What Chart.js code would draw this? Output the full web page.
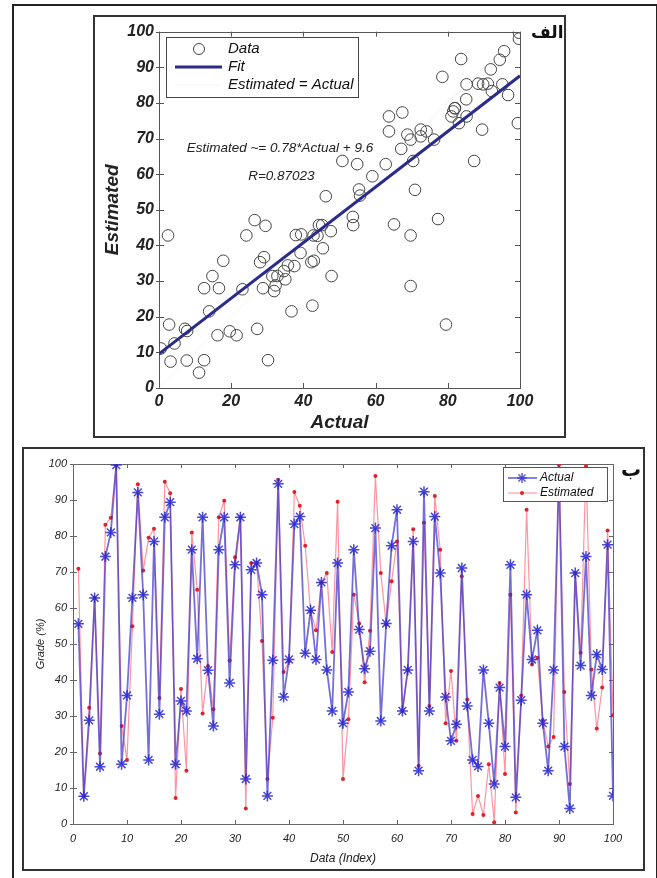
<!DOCTYPE html>
<html>
<head>
<meta charset="utf-8">
<script src="https://cdn.jsdelivr.net/npm/chart.js@4.4.1/dist/chart.umd.min.js"></script>
<style>
  body { margin: 0; background: #fff; width: 657px; height: 878px; position: relative; overflow: hidden; font-family: "Liberation Sans", Arial, sans-serif; }
  #frame { position: absolute; left: 12px; top: 4px; width: 642px; height: 890px; border: 2px solid #222; }
  #panelTop { position: absolute; left: 93px; top: 15px; width: 469px; height: 419px; border: 2px solid #333; }
  #panelBottom { position: absolute; left: 22px; top: 447px; width: 619px; height: 420px; border: 2px solid #333; }
  canvas { position: absolute; left: 0; top: 0; }
  .ar { position: absolute; font-family: "DejaVu Sans", sans-serif; font-weight: bold; color: #111; direction: rtl; line-height: 1; }
</style>
</head>
<body>
<div id="frame"></div>
<div id="panelTop"><canvas id="scatterChart" width="469" height="419"></canvas></div>
<div id="panelBottom"><canvas id="lineChart" width="619" height="420"></canvas></div>
<div class="ar" style="left:531px; top:24px; font-size:17px;">الف</div>
<div class="ar" style="left:621px; top:459px; font-size:20px;">ب</div>
<script>
// نمرات واقعی (ستاره آبی) و تخمینی (نقطه قرمز) برای هر داده
var actual = [
  55.6, 7.7, 28.8, 62.8, 15.9, 74.3, 81.0, 99.7, 16.6, 35.7,
  62.8, 92.1, 63.7, 17.8, 78.5, 30.5, 85.2, 89.4, 16.6, 34.2,
  31.4, 76.2, 45.9, 85.2, 42.7, 27.2, 76.2, 85.2, 39.2, 72.0,
  85.2, 12.5, 70.6, 72.5, 63.7, 7.8, 45.5, 94.5, 35.3, 45.7,
  83.3, 85.4, 47.4, 59.4, 45.7, 67.1, 42.8, 31.4, 72.5, 28.0,
  36.7, 76.2, 54.0, 43.1, 48.0, 82.2, 28.6, 55.7, 77.3, 87.3,
  31.4, 42.8, 78.5, 14.8, 92.3, 31.4, 85.4, 69.7, 35.3, 23.1,
  27.7, 71.1, 32.8, 17.8, 16.0, 42.8, 28.0, 11.1, 37.9, 21.5,
  72.0, 7.4, 34.4, 63.7, 45.7, 53.8, 28.0, 14.8, 42.8, 98.0,
  21.5, 4.3, 69.7, 44.0, 74.3, 35.7, 47.1, 42.9, 77.6, 7.8
];
var estimated = [
  70.9, 7.7, 32.3, 62.8, 19.6, 83.1, 85.1, 99.7, 27.2, 17.8,
  54.9, 94.4, 70.4, 79.5, 82.0, 35.0, 95.1, 91.9, 7.2, 37.5,
  14.8, 81.0, 65.1, 30.7, 43.9, 31.9, 85.2, 89.8, 45.4, 74.1,
  85.2, 4.3, 72.5, 72.5, 50.8, 12.5, 29.5, 95.6, 42.2, 45.2,
  92.2, 88.4, 77.3, 59.1, 53.8, 67.1, 69.7, 47.8, 89.5, 12.5,
  29.1, 63.7, 55.7, 39.4, 53.7, 96.7, 69.7, 55.4, 67.4, 78.5,
  31.4, 42.8, 81.9, 16.2, 83.7, 32.8, 91.1, 76.2, 28.0, 42.5,
  23.1, 68.8, 34.6, 2.8, 7.8, 2.5, 16.6, 0.5, 39.2, 13.9,
  63.7, 3.2, 35.7, 87.3, 44.3, 46.2, 28.8, 21.5, 24.2, 99.7,
  36.7, 11.1, 69.7, 47.6, 99.4, 42.9, 26.5, 37.9, 81.5, 30.2
];

// خط برازش
var fitSlope = 0.78;
var fitIntercept = 9.6;
var fitRange = [0, 100];

// برچسب‌ها
var fitText = 'Estimated ~= 0.78*Actual + 9.6';
var rText = 'R=0.87023';

// تیک‌ها
var scatterTicks = { min: 0, max: 100, xStep: 20, yStep: 10 };
var lineTicks = { min: 0, max: 100, xStep: 10, yStep: 10 };

// ساخت داده‌ها
var scatterPoints = [];
var actualPoints = [];
var estimatedPoints = [];
for (var i = 0; i < actual.length; i++) {
  scatterPoints.push({ x: estimated[i], y: actual[i] });
  actualPoints.push({ x: i + 1, y: actual[i] });
  estimatedPoints.push({ x: i + 1, y: estimated[i] });
}
var fitPoints = fitRange.map(function(v) { return { x: v, y: fitSlope * v + fitIntercept }; });
var identityPoints = fitRange.map(function(v) { return { x: v, y: v }; });

// کادر و تیک‌های رو به داخل (سبک متلب)
var boxTicks = {
  id: 'boxTicks',
  beforeDatasetsDraw: function(chart, args, opts) {
    var ctx = chart.ctx, a = chart.chartArea, len = opts.len || 5;
    ctx.save();
    ctx.strokeStyle = opts.color || '#555';
    ctx.lineWidth = 1;
    ctx.strokeRect(Math.round(a.left) + 0.5, Math.round(a.top) + 0.5, Math.round(a.right - a.left), Math.round(a.bottom - a.top));
    ctx.beginPath();
    var xs = chart.scales.x, ys = chart.scales.y;
    xs.ticks.forEach(function(t) {
      var px = Math.round(xs.getPixelForValue(t.value)) + 0.5;
      ctx.moveTo(px, a.bottom); ctx.lineTo(px, a.bottom - len);
      ctx.moveTo(px, a.top); ctx.lineTo(px, a.top + len);
    });
    ys.ticks.forEach(function(t) {
      var py = Math.round(ys.getPixelForValue(t.value)) + 0.5;
      ctx.moveTo(a.left, py); ctx.lineTo(a.left + len, py);
      ctx.moveTo(a.right, py); ctx.lineTo(a.right - len, py);
      ctx.moveTo(a.left, py); ctx.lineTo(a.left - 3, py);
    });
    ctx.stroke();
    ctx.restore();
  }
};

// راهنما و متن‌های نمودار بالا
var topExtras = {
  id: 'topExtras',
  afterDraw: function(chart) {
    var ctx = chart.ctx, xs = chart.scales.x, ys = chart.scales.y;
    ctx.save();
    ctx.fillStyle = '#222';
    ctx.font = 'italic 13.5px "Liberation Sans", Arial, sans-serif';
    ctx.textAlign = 'center';
    ctx.textBaseline = 'middle';
    ctx.fillText(fitText, xs.getPixelForValue(33.5), ys.getPixelForValue(67.2));
    ctx.fillText(rText, xs.getPixelForValue(33.9), ys.getPixelForValue(59.4));

    // legend box
    ctx.fillStyle = '#fff';
    ctx.fillRect(71, 20, 192, 60);
    ctx.strokeStyle = '#444';
    ctx.lineWidth = 1;
    ctx.strokeRect(71.5, 20.5, 192, 60);
    ctx.strokeStyle = '#444';
    ctx.beginPath();
    ctx.arc(104, 32, 5.5, 0, Math.PI * 2);
    ctx.stroke();
    ctx.strokeStyle = '#2a2c8a';
    ctx.lineWidth = 3;
    ctx.beginPath();
    ctx.moveTo(80, 50); ctx.lineTo(127, 50);
    ctx.stroke();
    ctx.strokeStyle = 'rgba(220,220,220,0.3)';
    ctx.lineWidth = 1;
    ctx.beginPath();
    ctx.moveTo(80, 68); ctx.lineTo(127, 68);
    ctx.stroke();
    ctx.fillStyle = '#111';
    ctx.font = 'italic 15px "Liberation Sans", Arial, sans-serif';
    ctx.textAlign = 'left';
    ctx.fillText('Data', 133, 32);
    ctx.fillText('Fit', 133, 50);
    ctx.fillText('Estimated = Actual', 133, 68);
    ctx.restore();
  }
};

// راهنمای نمودار پایین
var bottomLegend = {
  id: 'bottomLegend',
  afterDraw: function(chart) {
    var ctx = chart.ctx;
    ctx.save();
    ctx.fillStyle = '#fff';
    ctx.fillRect(479, 18, 104, 34);
    ctx.strokeStyle = '#555';
    ctx.lineWidth = 1;
    ctx.strokeRect(479.5, 18.5, 104, 34);
    // Actual
    ctx.strokeStyle = 'rgba(50,50,200,0.8)';
    ctx.lineWidth = 1.5;
    ctx.beginPath();
    ctx.moveTo(484, 29); ctx.lineTo(513, 29);
    ctx.stroke();
    ctx.beginPath();
    for (var k = 0; k < 4; k++) {
      var ang = k * Math.PI / 4;
      ctx.moveTo(498 - 5 * Math.cos(ang), 29 - 5 * Math.sin(ang));
      ctx.lineTo(498 + 5 * Math.cos(ang), 29 + 5 * Math.sin(ang));
    }
    ctx.stroke();
    // Estimated
    ctx.strokeStyle = 'rgba(255,60,80,0.6)';
    ctx.lineWidth = 1;
    ctx.beginPath();
    ctx.moveTo(484, 44); ctx.lineTo(513, 44);
    ctx.stroke();
    ctx.fillStyle = '#e0202a';
    ctx.beginPath();
    ctx.arc(498, 44, 2, 0, Math.PI * 2);
    ctx.fill();
    ctx.fillStyle = '#111';
    ctx.font = 'italic 12px "Liberation Sans", Arial, sans-serif';
    ctx.textBaseline = 'middle';
    ctx.fillText('Actual', 516, 29);
    ctx.fillText('Estimated', 516, 44);
    ctx.restore();
  }
};

Chart.defaults.font.family = '"Liberation Sans", Arial, sans-serif';
Chart.defaults.color = '#222';

// نمودار پراکندگی (الف)
var ctx1 = document.getElementById('scatterChart').getContext('2d');
new Chart(ctx1, {
  type: 'scatter',
  data: {
    datasets: [{
      label: 'Fit',
      type: 'line',
      data: fitPoints,
      borderColor: '#2a2c8a',
      borderWidth: 3,
      pointRadius: 0,
      showLine: true,
      fill: false
    }, {
      label: 'Estimated = Actual',
      type: 'line',
      data: identityPoints,
      borderColor: 'rgba(220,220,220,0.3)',
      borderWidth: 1,
      pointRadius: 0,
      showLine: true,
      fill: false
    }, {
      label: 'Data',
      data: scatterPoints,
      pointStyle: 'circle',
      pointRadius: 5.8,
      borderColor: '#444',
      borderWidth: 1,
      backgroundColor: 'rgba(0,0,0,0)'
    }]
  },
  options: {
    responsive: false,
    animation: false,
    layout: { padding: { left: 0, top: 14, right: 44, bottom: 0 } },
    plugins: {
      legend: { display: false },
      tooltip: { enabled: false },
      boxTicks: { len: 5, color: '#555' }
    },
    scales: {
      x: {
        type: 'linear',
        min: scatterTicks.min, max: scatterTicks.max,
        grid: { display: false, drawTicks: false },
        border: { display: false },
        ticks: { stepSize: scatterTicks.xStep, padding: 4, maxRotation: 0, font: { size: 16, style: 'italic', weight: 'bold' } },
        title: { display: true, text: 'Actual', padding: { top: 0, bottom: 2 }, font: { size: 19, style: 'italic', weight: 'bold' } },
        afterFit: function(s) { s.height = 48; }
      },
      y: {
        type: 'linear',
        min: scatterTicks.min, max: scatterTicks.max,
        grid: { display: false, drawTicks: false },
        border: { display: false },
        ticks: { stepSize: scatterTicks.yStep, padding: 5, font: { size: 16, style: 'italic', weight: 'bold' } },
        title: { display: true, text: 'Estimated', padding: { top: 6, bottom: 0 }, font: { size: 19, style: 'italic', weight: 'bold' } },
        afterFit: function(s) { s.width = 64; }
      }
    }
  },
  plugins: [boxTicks, topExtras]
});

// نمودار خطی (ب)
var ctx2 = document.getElementById('lineChart').getContext('2d');
new Chart(ctx2, {
  type: 'line',
  data: {
    datasets: [{
      label: 'Actual',
      data: actualPoints,
      borderColor: 'rgba(60,50,200,0.7)',
      borderWidth: 1.8,
      pointStyle: 'star',
      pointRadius: 5.5,
      pointBorderColor: 'rgba(40,40,210,0.85)',
      pointBorderWidth: 1.5,
      pointBackgroundColor: 'rgba(40,40,210,0.85)',
      tension: 0,
      fill: false
    }, {
      label: 'Estimated',
      data: estimatedPoints,
      borderColor: 'rgba(255,60,80,0.55)',
      borderWidth: 1.2,
      pointStyle: 'circle',
      pointRadius: 2,
      pointBorderWidth: 0,
      pointBackgroundColor: '#e0202a',
      tension: 0,
      fill: false
    }]
  },
  options: {
    responsive: false,
    animation: false,
    layout: { padding: { left: 0, top: 15, right: 30, bottom: 0 } },
    plugins: {
      legend: { display: false },
      tooltip: { enabled: false },
      boxTicks: { len: 4, color: '#666' }
    },
    scales: {
      x: {
        type: 'linear',
        min: lineTicks.min, max: lineTicks.max,
        grid: { display: false, drawTicks: false },
        border: { display: false },
        ticks: { stepSize: lineTicks.xStep, padding: 8, maxRotation: 0, font: { size: 11, style: 'italic' } },
        title: { display: true, text: 'Data (Index)', padding: { top: 4, bottom: 3 }, font: { size: 12, style: 'italic' } },
        afterFit: function(s) { s.height = 45; }
      },
      y: {
        type: 'linear',
        min: lineTicks.min, max: lineTicks.max,
        grid: { display: false, drawTicks: false },
        border: { display: false },
        ticks: { stepSize: lineTicks.yStep, padding: 6, font: { size: 11, style: 'italic' } },
        title: { display: true, text: 'Grade (%)', padding: { top: 10, bottom: 0 }, font: { size: 11, style: 'italic' } },
        afterFit: function(s) { s.width = 49; }
      }
    }
  },
  plugins: [boxTicks, bottomLegend]
});
</script>
</body>
</html>
